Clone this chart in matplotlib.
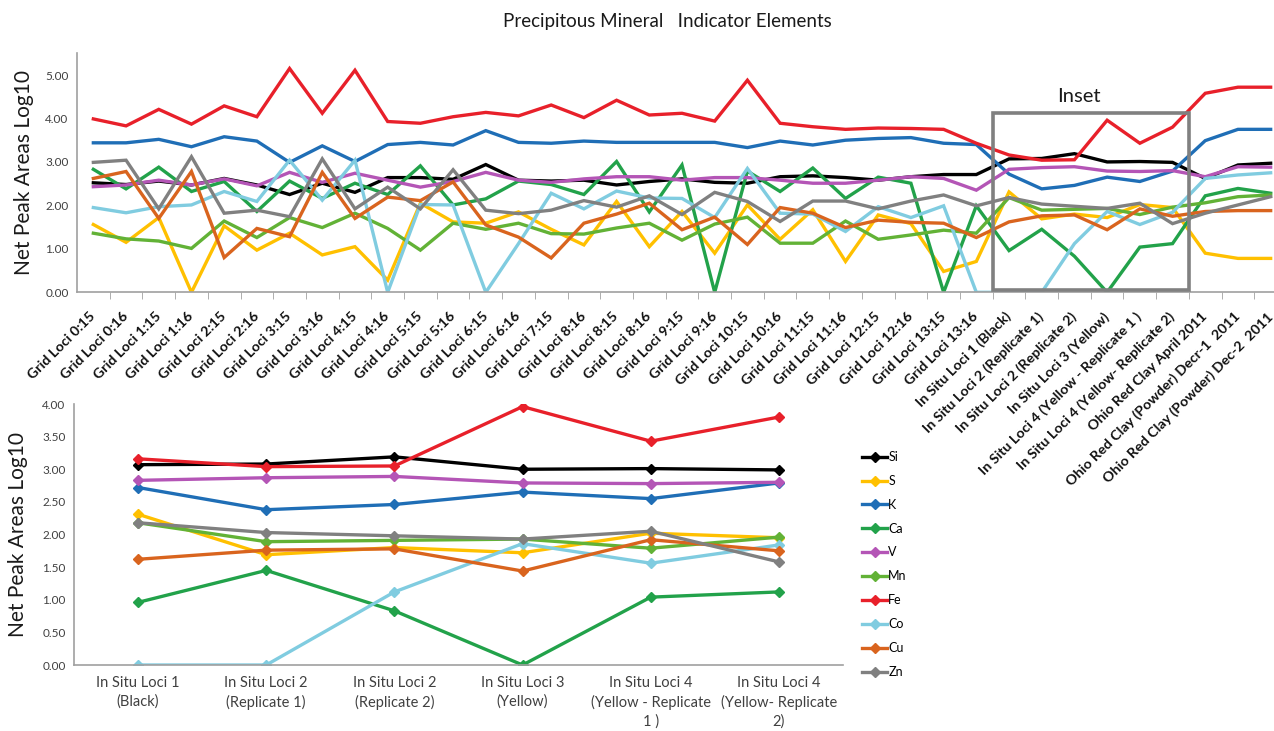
import matplotlib
matplotlib.use("Agg")
import matplotlib.pyplot as plt
from matplotlib.patches import Rectangle

plt.rcParams['font.family'] = ['Lato', 'DejaVu Sans']

# --- libellés des catégories -------------------------------------------
grid_labels = ["Grid Loci 0:15", "Grid Loci 0:16", "Grid Loci 1:15", "Grid Loci 1:16",
               "Grid Loci 2:15", "Grid Loci 2:16", "Grid Loci 3:15", "Grid Loci 3:16",
               "Grid Loci 4:15", "Grid Loci 4:16", "Grid Loci 5:15", "Grid Loci 5:16",
               "Grid Loci 6:15", "Grid Loci 6:16", "Grid Loci 7:15", "Grid Loci 8:16",
               "Grid Loci 8:15", "Grid Loci 8:16", "Grid Loci 9:15", "Grid Loci 9:16",
               "Grid Loci 10:15", "Grid Loci 10:16", "Grid Loci 11:15", "Grid Loci 11:16",
               "Grid Loci 12:15", "Grid Loci 12:16", "Grid Loci 13:15", "Grid Loci 13:16"]
insitu_labels = ["In Situ Loci 1 (Black)", "In Situ Loci 2 (Replicate 1)",
                 "In Situ Loci 2 (Replicate 2)", "In Situ Loci 3 (Yellow)",
                 "In Situ Loci 4 (Yellow - Replicate 1 )", "In Situ Loci 4 (Yellow- Replicate 2)"]
ohio_labels = ["Ohio Red Clay April 2011", "Ohio Red Clay (Powder) Decr-1  2011",
               "Ohio Red Clay (Powder) Dec-2  2011"]
insitu_short = ["In Situ Loci 1\n(Black)", "In Situ Loci 2\n(Replicate 1)",
                "In Situ Loci 2\n(Replicate 2)", "In Situ Loci 3\n(Yellow)",
                "In Situ Loci 4\n(Yellow - Replicate\n1 )", "In Situ Loci 4\n(Yellow- Replicate\n2)"]

# --- valeurs (log10 des aires nettes), 28 grid + 6 in situ + 3 Ohio ------
Si = [2.52, 2.48, 2.56, 2.47, 2.62, 2.47, 2.25, 2.51, 2.30, 2.64, 2.64, 2.60, 2.94, 2.58,
      2.56, 2.58, 2.47, 2.55, 2.61, 2.53, 2.51, 2.66, 2.68, 2.64, 2.58, 2.66, 2.71, 2.71,
      3.07, 3.08, 3.19, 3.00, 3.01, 2.99, 2.62, 2.93, 2.97]
S = [1.56, 1.15, 1.72, 0.00, 1.53, 0.97, 1.36, 0.86, 1.05, 0.28, 2.05, 1.62, 1.59, 1.85,
     1.45, 1.09, 2.09, 1.05, 1.86, 0.90, 2.01, 1.22, 1.90, 0.71, 1.78, 1.58, 0.48, 0.71,
     2.31, 1.69, 1.80, 1.72, 2.02, 1.95, 0.90, 0.78, 0.78]
K = [3.44, 3.44, 3.52, 3.35, 3.58, 3.48, 2.99, 3.37, 3.01, 3.40, 3.45, 3.39, 3.72, 3.45,
     3.43, 3.48, 3.45, 3.45, 3.45, 3.45, 3.33, 3.48, 3.39, 3.50, 3.54, 3.56, 3.43, 3.40,
     2.72, 2.38, 2.46, 2.65, 2.55, 2.79, 3.49, 3.75, 3.75]
Ca = [2.83, 2.38, 2.88, 2.32, 2.55, 1.86, 2.56, 2.16, 2.51, 2.25, 2.91, 2.01, 2.15, 2.56,
      2.48, 2.25, 3.01, 1.85, 2.93, 0.00, 2.79, 2.32, 2.86, 2.16, 2.65, 2.51, 0.00, 1.99,
      0.96, 1.45, 0.83, 0.00, 1.04, 1.12, 2.22, 2.39, 2.28]
V = [2.43, 2.47, 2.58, 2.47, 2.61, 2.45, 2.76, 2.53, 2.74, 2.58, 2.42, 2.55, 2.76, 2.58,
     2.53, 2.61, 2.66, 2.66, 2.58, 2.64, 2.64, 2.58, 2.51, 2.51, 2.58, 2.66, 2.62, 2.35,
     2.83, 2.87, 2.89, 2.79, 2.78, 2.80, 2.66, 2.89, 2.88]
Mn = [1.36, 1.23, 1.18, 1.01, 1.64, 1.26, 1.72, 1.49, 1.82, 1.47, 0.97, 1.59, 1.45, 1.59,
      1.35, 1.34, 1.48, 1.59, 1.20, 1.57, 1.73, 1.13, 1.13, 1.64, 1.22, 1.32, 1.43, 1.36,
      2.18, 1.89, 1.91, 1.93, 1.79, 1.96, 2.06, 2.20, 2.24]
Fe = [3.99, 3.83, 4.21, 3.87, 4.29, 4.04, 5.15, 4.12, 5.11, 3.93, 3.89, 4.04, 4.14, 4.06,
      4.31, 4.02, 4.42, 4.08, 4.12, 3.94, 4.88, 3.89, 3.81, 3.75, 3.78, 3.77, 3.75, 3.43,
      3.16, 3.04, 3.05, 3.96, 3.43, 3.80, 4.58, 4.72, 4.72]
Co = [1.95, 1.83, 1.97, 2.01, 2.32, 2.09, 3.04, 2.12, 3.04, 0.00, 2.02, 2.01, 0.00, 1.12,
      2.28, 1.92, 2.33, 2.17, 2.16, 1.72, 2.85, 1.82, 1.80, 1.40, 1.97, 1.72, 1.99, 0.00,
      0.00, 0.00, 1.12, 1.86, 1.56, 1.84, 2.62, 2.70, 2.75]
Cu = [2.62, 2.78, 1.70, 2.78, 0.80, 1.47, 1.28, 2.76, 1.70, 2.19, 2.11, 2.54, 1.55, 1.27,
      0.79, 1.59, 1.80, 2.05, 1.44, 1.73, 1.10, 1.95, 1.82, 1.49, 1.66, 1.61, 1.59, 1.26,
      1.62, 1.76, 1.78, 1.44, 1.92, 1.75, 1.86, 1.88, 1.88]
Zn = [2.99, 3.04, 1.92, 3.12, 1.82, 1.89, 1.74, 3.07, 1.92, 2.42, 1.92, 2.82, 1.89, 1.81,
      1.89, 2.11, 1.96, 2.22, 1.79, 2.30, 2.09, 1.63, 2.10, 2.10, 1.92, 2.10, 2.24, 1.99,
      2.18, 2.03, 1.98, 1.93, 2.05, 1.58, 1.82, 2.01, 2.20]

elements = ["Si", "S", "K", "Ca", "V", "Mn", "Fe", "Co", "Cu", "Zn"]
series = [Si, S, K, Ca, V, Mn, Fe, Co, Cu, Zn]
colors = ["#000000", "#FFC000", "#1F6EB6", "#22A24A", "#B455B6",
          "#62B236", "#E8202A", "#80CCE0", "#D9641E", "#808080"]

labels_top = grid_labels + insitu_labels + ohio_labels
n_grid = len(grid_labels)
n_situ = len(insitu_labels)

fig = plt.figure(figsize=(12.74, 7.31), dpi=100)

# --- graphe du haut : toutes les mesures ---------------------------------
ax1 = fig.add_axes([77 / 1274, 1 - 292.3 / 731, 1210 / 1274, 239 / 731])
x = list(range(len(labels_top)))
for name, vals, col in zip(elements, series, colors):
    ax1.plot(x, vals, color=col, lw=2.4, solid_joinstyle='miter')

ax1.set_xlim(-0.5, len(labels_top) - 0.5)
ax1.set_ylim(0, 5.5)
ax1.set_yticks([0, 1, 2, 3, 4, 5])
ax1.set_yticklabels(["%.2f" % v for v in [0, 1, 2, 3, 4, 5]], fontsize=8.5, color="#404040")
ax1.set_xticks(x)
ax1.set_xticklabels(labels_top, rotation=45, ha='right', va='center',
                    rotation_mode='anchor', fontsize=10.3, fontweight='bold', color="#111111")
ax1.set_xticks([i + 0.5 for i in x], minor=True)
ax1.tick_params(axis='x', which='major', length=0, pad=16)
ax1.tick_params(axis='x', which='minor', length=5, color="#A0A0A0")
ax1.tick_params(axis='y', length=0, pad=6)
for s in ["top", "right"]:
    ax1.spines[s].set_visible(False)
for s in ["left", "bottom"]:
    ax1.spines[s].set_color("#A0A0A0")
    ax1.spines[s].set_linewidth(1.2)
ax1.set_ylabel("Net Peak Areas Log10", fontsize=15, color="#1a1a1a", labelpad=8)

# encadré autour des points in situ
box = Rectangle((n_grid - 0.5, 0.05), n_situ, 4.08, fill=False,
                edgecolor="#808080", lw=2.6, clip_on=False, zorder=5)
ax1.add_patch(box)
ax1.text(n_grid - 0.5 + n_situ / 2 - 0.35, 4.3, "Inset", ha='center', va='bottom',
         fontsize=14.5, color="#1a1a1a")

fig.text(667 / 1274, 1 - 22 / 731, "Precipitous Mineral   Indicator Elements",
         ha='center', va='center', fontsize=13.5, color="#1a1a1a")

# --- graphe du bas : zoom sur les points in situ --------------------------
ax2 = fig.add_axes([74 / 1274, 1 - 665 / 731, 769 / 1274, 261 / 731])
xs = list(range(n_situ))
for name, vals, col in zip(elements, series, colors):
    ax2.plot(xs, vals[n_grid:n_grid + n_situ], color=col, lw=2.4, marker='D',
             markersize=5.5, label=name)

ax2.set_xlim(-0.5, n_situ - 0.5)
ax2.set_ylim(0, 4)
yt = [0, 0.5, 1, 1.5, 2, 2.5, 3, 3.5, 4]
ax2.set_yticks(yt)
ax2.set_yticklabels(["%.2f" % v for v in yt], fontsize=8.5, color="#404040")
ax2.set_xticks(xs)
ax2.set_xticklabels(insitu_short, fontsize=10.5, color="#404040", linespacing=1.4)
ax2.tick_params(axis='x', length=0, pad=8)
ax2.tick_params(axis='y', length=0, pad=6)
for s in ["top", "right"]:
    ax2.spines[s].set_visible(False)
for s in ["left", "bottom"]:
    ax2.spines[s].set_color("#A0A0A0")
    ax2.spines[s].set_linewidth(1.2)
ax2.set_ylabel("Net Peak Areas Log10", fontsize=15, color="#1a1a1a", labelpad=10)

fig.legend(loc='upper left', bbox_to_anchor=(857 / 1274, 1 - 446 / 731),
           frameon=False, fontsize=9, handlelength=2.0, handletextpad=0.1,
           labelspacing=0.95, borderaxespad=0)

fig.savefig("out.png", dpi=100)
